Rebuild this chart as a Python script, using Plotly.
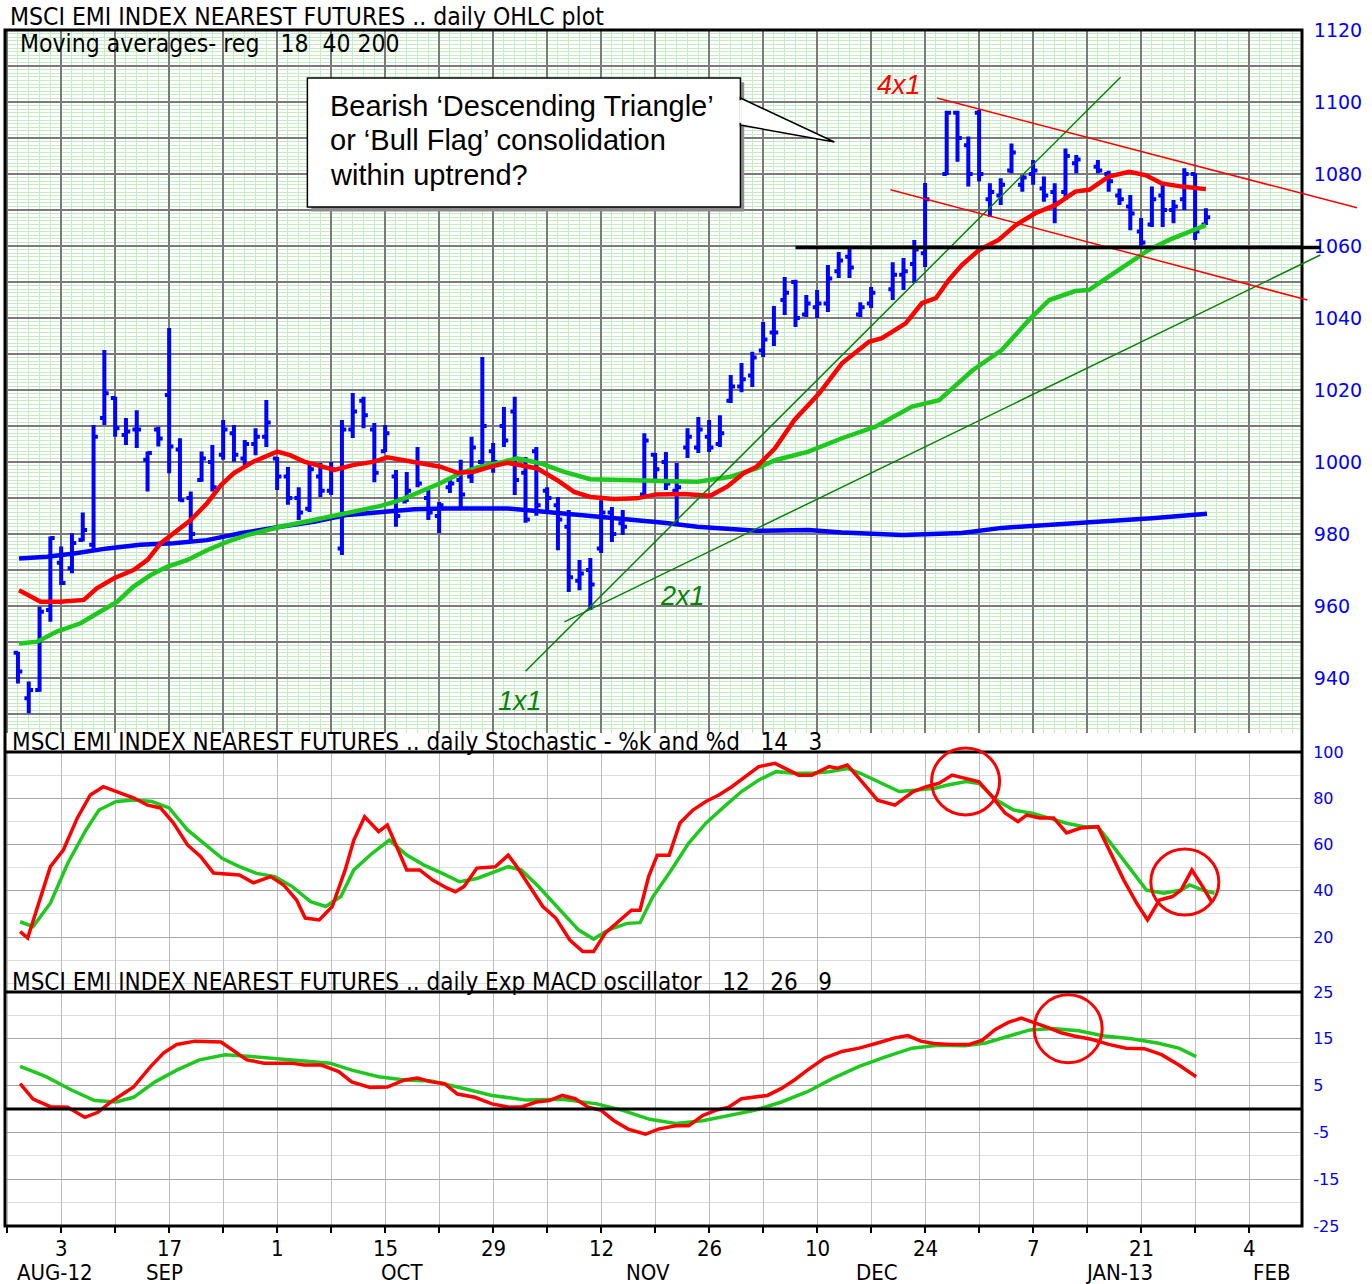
import plotly.graph_objects as go

# ---------------- data (x = trading-day index, 0 = 3 Sep 2012) ----------------
bar_day = [-4, -3, -2, -1, 0, 1, 2, 3, 4, 5, 6, 7, 8, 9, 10, 11, 12, 13, 14, 15, 16, 17, 18, 19,
           20, 21, 22, 23, 24, 25, 26, 27, 28, 29, 30, 31, 32, 33, 34, 35, 36, 37, 38, 39, 40,
           41, 42, 43, 44, 45, 46, 47, 48, 49, 50, 51, 52, 54, 55, 56, 57, 58, 59, 60, 61, 62,
           63, 64, 65, 66, 67, 68, 69, 70, 71, 72, 73, 74, 75, 77, 78, 79, 80, 82, 83, 84, 85,
           86, 87, 88, 89, 90, 91, 92, 93, 94, 96, 97, 98, 99, 100, 101, 102, 103, 104, 105, 106]
bar_open = [947, 934.4, 936.7, 958.9, 972, 970.5, 978.3, 977, 1012.2, 1017.8, 1007.5, 1009, 1000.6,
            1009, 1018.6, 1003.5, 990, 995, 1000, 1002, 1008, 1001, 1005, 1007,
            1001, 996, 990, 987, 996, 992, 976, 1009, 1017, 1009, 1003, 996, 989, 1000, 990, 985,
            993, 995, 996, 1000, 1003,
            1010, 1014, 997, 1003, 992, 988, 982, 967, 970, 976, 986, 983, 991, 1002, 1000, 992,
            1004, 1004, 1007, 1005, 1017,
            1021, 1024, 1031, 1036, 1045, 1050, 1041, 1043, 1044, 1053, 1057, 1041, 1044, 1048,
            1052, 1055, 1058, 1080, 1097, 1088, 1097,
            1073, 1074, 1081, 1077, 1080, 1076, 1075, 1075, 1083, 1082, 1080, 1074, 1071, 1064,
            1066, 1074, 1070, 1073, 1080, 1066]
bar_high = [947.3, 939, 959.8, 979.3, 976.5, 980.2, 986, 1010.3, 1031.1, 1018.1, 1012.2, 1014.4,
            1002.9, 1009.8, 1037.2, 1006.6, 991.8, 1002.9, 1004.7, 1011.7, 1010.3, 1006.1, 1009.4,
            1017.2,
            1001.4, 998.6, 993, 999.7, 999.7, 1000, 1011.7, 1019.2, 1018.1, 1010.8, 1010.3, 997.8,
            997.2, 1004.2, 992.2, 988.9, 995, 1000.6, 1007, 1029.2, 1005.3,
            1015.3, 1018.1, 1001.4, 1004.2, 993, 990.3, 986.7, 972.8, 973.3, 989.4, 987.5, 986.7,
            1008, 1002.5, 1002.8, 999.7, 1009.4, 1012.5, 1011.7, 1013, 1024.2,
            1027.5, 1030.6, 1038.9, 1043.3, 1051.4, 1050.6, 1046.4, 1047.8, 1054.7, 1058.3, 1059.7,
            1044.4, 1048.6, 1055.5, 1056.7, 1061.7, 1077.5, 1097.6, 1097.6, 1090.4, 1097.8,
            1077.4, 1078.8, 1088.5, 1079.7, 1083.9, 1079.3, 1077.4, 1087.1, 1085.3, 1083.9, 1080.9,
            1076, 1074.2, 1067.8, 1076.5, 1077, 1072.8, 1081.6, 1080.2, 1070.5]
bar_low = [938.5, 930.2, 936.2, 955.6, 965.8, 969.1, 977.9, 975.6, 1010.3, 1007, 1004.7, 1003.9,
           991.8, 1004.3, 996.9, 989, 977.9, 994.5, 991.8, 1000.6, 1000.1, 999.2, 1001.9, 1004.2,
           992.2, 988.1, 983.9, 986.1, 990.3, 990.8, 974.2, 1006.7, 1009.4, 994.4, 1002.8, 982,
           988.9, 993, 983.9, 980.3, 991.4, 987.5, 994.2, 998.6, 997,
           1004.2, 990.8, 983.1, 985.1, 986.7, 975.5, 963.9, 964.4, 958.9, 974.7, 977.8, 979.7,
           990.8, 994.2, 992.2, 983.1, 1001.1, 1002.5, 1002.8, 1004.2, 1016.4,
           1019.4, 1020.8, 1029.2, 1032.2, 1040.8, 1037.5, 1040.3, 1040, 1041.7, 1051.1, 1051.1,
           1040.3, 1042.8, 1045, 1047.8, 1049.7, 1054.2, 1079.7, 1083.4, 1076.5, 1077.9,
           1068.1, 1071.4, 1080.2, 1075.1, 1077, 1072.3, 1066.3, 1072.8, 1080.2, 1080.2, 1075.1,
           1071.4, 1064.4, 1060.1, 1065.3, 1065.3, 1066.3, 1070, 1061.7, 1065.8]
bar_close = [941.8, 936.7, 958.4, 978.9, 966.4, 977.5, 981.1, 1007, 1019.1, 1009.4, 1008.5, 1009,
             1002.5, 1006.5, 1004.3, 989.4, 980, 1001, 993, 1009, 1002, 1005, 1007, 1011,
             996, 990, 986, 998, 992, 998, 1009, 1014, 1013, 997, 1008, 985, 992, 994, 986, 988,
             994, 991, 1004, 1010, 1000,
             1006, 995, 984, 988, 990, 984, 968, 969, 966, 986, 980, 982, 1006, 998, 994, 993,
             1007, 1009, 1004, 1008, 1021,
             1023, 1029, 1034, 1036, 1047, 1040, 1044, 1044, 1051, 1056, 1054, 1043, 1047, 1052,
             1053, 1059, 1073, 1097, 1090, 1080, 1080,
             1075, 1077, 1086, 1079, 1081, 1074, 1072, 1085, 1084, 1081, 1078, 1073, 1069, 1061,
             1073, 1070, 1071, 1080, 1064, 1068]

ma18_day = [-3.9, -1.9, -0.1, 2.1, 3.3, 4.9, 6.7, 8.0, 9.2, 10.4, 12.0, 13.5, 14.8, 16.0, 17.8,
            20.0, 21.2, 22.5, 24.0, 25.3, 27.1, 29.0, 30.2, 31.7, 33.3, 35.1, 36.7, 38.2, 39.8,
            41.3, 44.1, 45.9, 47.5, 49.0, 51.2, 53.3, 55.1, 57.7, 60.1, 61.7, 63.2, 64.4, 66.1,
            67.9, 70.2, 72.3, 74.8, 76.0, 78.2, 79.7, 81.0, 82.2, 83.4, 85.0, 86.8, 88.4, 90.2,
            92.1, 93.9, 95.2, 97.0, 98.9, 100.4, 101.9, 103.8, 106.0]
ma18_val = [964.4, 961.2, 961.2, 961.7, 964.9, 967.7, 970.0, 972.8, 977.4, 980.2, 983.9, 988.5,
            993.6, 996.9, 1000.1, 1002.9, 1001.9, 1000.1, 998.7, 997.8, 999.2, 1000.1, 1001.3,
            1000.6, 999.8, 998.7, 997.0, 997.3, 998.7, 999.8, 998.2, 995.0, 991.7, 990.3, 989.7,
            989.9, 991.0, 991.1, 990.6, 993.2, 996.9, 998.7, 1003.8, 1011.7, 1019.1, 1027.4,
            1033.4, 1034.4, 1038.5, 1044.1, 1045.5, 1050.6, 1054.7, 1058.9, 1061.7, 1065.8,
            1069.1, 1071.4, 1075.1, 1075.6, 1079.3, 1080.6, 1079.7, 1077.4, 1076.5, 1075.8]

ma40_day = [-3.9, -2.2, -0.4, 1.8, 3.6, 5.2, 6.7, 8.3, 9.8, 11.7, 13.5, 15.4, 17.2, 20.3, 23.4,
            26.5, 29.6, 31.4, 33.3, 35.1, 37.0, 38.8, 41.0, 42.2, 44.4, 46.5, 49.0, 52.7, 55.8,
            58.9, 62.0, 64.4, 66.1, 69.2, 72.3, 75.4, 78.8, 81.3, 84.4, 87.1, 89.6, 91.5, 93.9,
            95.2, 97.0, 98.9, 100.7, 102.6, 104.4, 106.0]
ma40_val = [949.6, 950.1, 952.9, 955.2, 958.4, 961.2, 965.4, 968.6, 970.9, 972.8, 975.5, 977.9,
            979.7, 982.0, 983.9, 985.7, 987.8, 989.4, 991.7, 994.1, 996.9, 998.7, 1000.1, 1001.0,
            999.6, 997.3, 995.2, 995.0, 994.8, 994.5, 995.9, 998.2, 1000.5, 1002.9, 1006.6,
            1009.8, 1015.4, 1017.2, 1025.5, 1031.1, 1039.4, 1045.0, 1047.5, 1047.8, 1051.5,
            1055.2, 1058.9, 1061.7, 1064.0, 1065.8]

ma200_day = [-3.9, -1.3, 1.2, 4.3, 7.3, 10.4, 13.5, 16.6, 20.3, 23.4, 26.5, 29.6, 32.7, 35.7,
             38.8, 41.3, 43.5, 46.5, 49.6, 52.7, 55.8, 58.9, 62.0, 64.4, 69.2, 72.3, 77.9, 83.4,
             87.1, 91.7, 96.4, 101.0, 106.1]
ma200_val = [973.2, 973.7, 974.6, 976.0, 977.0, 977.4, 978.3, 980.2, 982.0, 983.4, 985.3, 986.2,
             986.9, 987.1, 987.1, 987.1, 986.5, 985.7, 984.8, 983.9, 983.1, 982.0, 981.3, 980.9,
             981.1, 980.4, 979.7, 980.3, 981.7, 982.5, 983.3, 984.4, 985.6]

stk_day = [-3.8, -3.1, -1.0, 0.2, 1.5, 2.7, 3.9, 5.1, 6.8, 8.0, 9.2, 10.4, 11.7, 12.9, 14.1, 16.5,
           17.8, 19.4, 20.6, 21.8, 22.6, 23.9, 25.1, 26.3, 27.1, 28.1, 29.4, 30.2, 31.2, 32.0,
           33.2, 34.4, 35.7, 36.5, 37.3, 38.5, 40.2, 41.4, 42.2, 43.4, 44.6, 45.8, 47.1, 48.3,
           49.3, 50.4, 51.6, 52.8, 53.6, 54.4, 55.2, 56.3, 57.3, 58.5, 59.7, 60.9, 62.1, 63.4,
           64.6, 66.1, 67.0, 68.3, 69.5, 71.1, 71.9, 72.8, 74.0, 75.6, 77.2, 78.9, 80.1, 81.3,
           82.5, 83.8, 85.0, 86.2, 87.4, 88.6, 89.4, 90.6, 91.9, 93.1, 94.4, 96.0, 97.2, 98.4,
           99.6, 100.6, 101.7, 102.9, 103.7, 104.7, 105.7, 106.6]
stk_val = [22.3, 19.6, 50.4, 57.6, 71.5, 81.4, 85.0, 82.9, 80.0, 77.0, 75.8, 69.3, 59.8, 54.8,
           47.7, 46.8, 43.4, 46.1, 42.5, 36.0, 28.2, 27.4, 33.2, 49.0, 61.9, 72.0, 65.6, 68.4,
           57.6, 49.0, 49.0, 44.6, 41.2, 39.6, 41.8, 49.8, 50.4, 55.4, 50.4, 41.8, 33.2, 28.2,
           18.7, 13.7, 13.7, 21.8, 26.6, 31.6, 31.6, 46.1, 55.4, 55.4, 69.3, 74.9, 78.6, 81.4,
           85.0, 89.3, 93.7, 95.1, 93.0, 90.0, 90.0, 93.7, 93.0, 94.4, 87.9, 79.2, 77.0, 82.9,
           85.0, 86.5, 90.0, 88.6, 87.1, 80.7, 73.6, 69.9, 72.7, 71.5, 71.5, 65.0, 67.1, 67.7,
           56.3, 44.6, 34.6, 27.4, 36.0, 37.5, 40.3, 49.0, 41.8, 34.6]

std_day = [-3.8, -2.6, -1.0, 0.6, 2.3, 3.5, 5.1, 6.8, 8.4, 10.0, 11.7, 13.2, 14.9, 16.5, 18.1,
           19.8, 21.4, 23.1, 24.5, 25.9, 27.1, 28.8, 30.4, 32.0, 33.6, 35.3, 36.9, 38.5, 39.8,
           41.4, 42.6, 44.2, 45.9, 47.9, 49.3, 50.7, 52.4, 53.6, 54.8, 56.5, 58.1, 59.7, 61.4,
           63.0, 64.6, 66.2, 67.9, 69.5, 71.1, 72.8, 74.0, 75.6, 77.6, 79.3, 80.9, 82.1, 83.8,
           85.0, 86.6, 88.2, 89.9, 91.5, 93.1, 94.7, 96.0, 97.2, 98.8, 100.5, 102.1, 103.7, 104.5,
           105.7, 106.8]
std_val = [26.6, 24.5, 34.6, 51.8, 66.3, 74.9, 78.6, 79.2, 78.6, 75.8, 66.3, 60.5, 54.0, 50.4,
           47.5, 46.1, 41.8, 35.3, 33.2, 37.5, 49.0, 56.2, 61.9, 55.4, 51.1, 47.5, 43.9, 45.3,
           47.5, 50.4, 49.0, 41.8, 33.2, 23.1, 19.1, 23.1, 25.9, 26.2, 37.5, 49.0, 60.5, 69.2,
           76.4, 82.9, 87.9, 91.5, 90.8, 90.8, 91.5, 92.9, 90.8, 87.2, 82.9, 83.6, 84.3, 85.7,
           87.2, 86.4, 79.2, 74.9, 73.5, 71.4, 69.2, 67.7, 67.7, 60.5, 50.4, 40.3, 38.9, 40.3,
           42.5, 40.3, 38.9]

macd_day = [-3.8, -2.6, -1.0, 0.6, 2.2, 3.4, 4.6, 6.7, 8.3, 9.5, 10.7, 12.4, 14.8, 16.0, 17.2,
            18.8, 21.3, 22.5, 24.1, 25.7, 26.9, 28.6, 30.2, 31.8, 33.0, 34.3, 35.5, 36.7, 38.3,
            39.9, 41.5, 42.7, 44.0, 45.2, 46.4, 47.6, 48.8, 50.0, 51.2, 52.5, 54.1, 55.3, 56.9,
            58.1, 59.4, 60.6, 61.8, 63.0, 64.2, 65.4, 66.7, 67.9, 69.1, 70.7, 72.3, 73.9, 75.6,
            77.2, 78.4, 79.6, 80.8, 82.4, 84.1, 85.3, 86.5, 87.7, 88.9, 90.1, 91.4, 92.6, 93.8,
            95.4, 97.0, 98.6, 100.3, 101.9, 103.5, 105.1]
macd_val = [5.4, 2.1, 0.5, 0.4, -1.8, -0.7, 1.5, 4.7, 9.1, 12.0, 13.8, 14.5, 14.3, 12.3, 10.5,
            9.8, 9.8, 9.4, 9.4, 8.0, 5.8, 4.6, 4.7, 6.2, 6.6, 5.8, 5.4, 3.2, 2.5, 1.1, 0.4, 0.5,
            1.5, 1.8, 2.9, 2.2, 0.4, -0.3, -2.5, -4.3, -5.4, -4.3, -3.6, -3.6, -1.4, -0.3, 0.4,
            2.2, 2.5, 2.9, 4.4, 6.2, 8.3, 10.9, 12.3, 13.0, 14.1, 15.2, 15.7, 14.5, 14.0, 13.8,
            13.8, 14.7, 17.0, 18.5, 19.4, 18.5, 17.4, 16.3, 15.6, 14.9, 13.8, 13.0, 12.9, 11.6,
            9.4, 6.9]

sig_day = [-3.8, -1.4, 1.0, 3.1, 5.1, 6.7, 8.7, 10.7, 12.8, 15.2, 17.6, 20.5, 23.3, 24.9, 26.9,
           29.4, 31.8, 34.3, 36.7, 39.9, 43.1, 46.4, 49.6, 52.0, 54.5, 56.9, 59.4, 61.8, 64.2,
           66.7, 69.1, 71.5, 73.9, 76.4, 78.8, 81.2, 83.7, 85.6, 87.7, 89.7, 91.8, 94.2, 96.6,
           99.1, 101.5, 103.5, 105.1]
sig_val = [9.1, 6.9, 4.0, 1.8, 1.5, 2.5, 5.8, 8.3, 10.5, 11.6, 11.2, 10.7, 10.2, 9.8, 8.3, 6.9,
           6.2, 6.0, 4.7, 2.9, 1.9, 2.1, 1.1, -0.3, -2.2, -3.1, -2.5, -1.4, -0.3, 1.5, 3.7, 6.6,
           9.1, 11.2, 13.0, 13.6, 13.5, 14.1, 15.6, 16.9, 17.2, 16.7, 15.6, 15.0, 14.1, 13.0, 11.2]

tick_days = [0, 10, 20, 30, 40, 50, 60, 70, 80, 90, 100, 110]
tick_labels = ["3", "17", "1", "15", "29", "12", "26", "10", "24", "7", "21", "4"]
month_days = [-0.6, 9.6, 31.6, 54.3, 75.5, 98.0, 112.1]
month_labels = ["AUG-12", "SEP", "OCT", "NOV", "DEC", "JAN-13", "FEB"]

price_ticks = [940, 960, 980, 1000, 1020, 1040, 1060, 1080, 1100, 1120]
stoch_ticks = [20, 40, 60, 80, 100]
macd_ticks = [-25, -15, -5, 5, 15, 25]

# trend lines drawn on the price panel: (day, price) end points
line_1x1 = [(43.0, 941.9), (98.1, 1106.9)]
line_2x1 = [(46.6, 955.6), (116.6, 1057.5)]
line_top = [(81.1, 1101.1), (120.0, 1070.6)]
line_bottom = [(76.8, 1075.6), (115.4, 1045.0)]
line_support = [(68.0, 1059.6), (116.6, 1059.6)]

# ---------------- layout constants ----------------
X0, X1 = -5.2, 114.9
MAIN_DOM = [(1226 - 733) / 1196, 1.0]
STO_DOM = [(1226 - 992) / 1196, (1226 - 752) / 1196]
MACD_DOM = [0.0, (1226 - 992) / 1196]
MAIN_RNG = [1120 - 703 / 3.6, 1120]
STO_RNG = [-3.78, 100]
MACD_RNG = [-25, 25]

NARROW = "Liberation Sans Narrow, Arial Narrow, DejaVu Sans Condensed, sans-serif"
ARIAL = "Liberation Sans, Arial, sans-serif"
BLUE = "#0000ff"
RED = "#ff0000"
GREEN = "#1ec81e"
DKGREEN = "#0a800a"
MINT = "#c6ecc6"


def xp(k):
    return (k - X0) / (X1 - X0)


def yp(v, dom, rng):
    return dom[0] + (v - rng[0]) / (rng[1] - rng[0]) * (dom[1] - dom[0])


def ym(v):
    return yp(v, MAIN_DOM, MAIN_RNG)


def ys(v):
    return yp(v, STO_DOM, STO_RNG)


def yc(v):
    return yp(v, MACD_DOM, MACD_RNG)


fig = go.Figure()

fig.add_trace(go.Ohlc(
    x=bar_day, open=bar_open, high=bar_high, low=bar_low, close=bar_close,
    increasing=dict(line=dict(color=BLUE, width=4)),
    decreasing=dict(line=dict(color=BLUE, width=4)),
    tickwidth=0.4, xaxis="x", yaxis="y", hoverinfo="skip"))

fig.add_trace(go.Scatter(x=ma200_day, y=ma200_val, mode="lines",
                         line=dict(color=BLUE, width=4.5), xaxis="x", yaxis="y"))
fig.add_trace(go.Scatter(x=ma40_day, y=ma40_val, mode="lines",
                         line=dict(color=GREEN, width=4.5), xaxis="x", yaxis="y"))
fig.add_trace(go.Scatter(x=ma18_day, y=ma18_val, mode="lines",
                         line=dict(color=RED, width=4.5), xaxis="x", yaxis="y"))

fig.add_trace(go.Scatter(x=std_day, y=std_val, mode="lines",
                         line=dict(color=GREEN, width=3.5), xaxis="x2", yaxis="y2"))
fig.add_trace(go.Scatter(x=stk_day, y=stk_val, mode="lines",
                         line=dict(color=RED, width=3.5), xaxis="x2", yaxis="y2"))

fig.add_trace(go.Scatter(x=sig_day, y=sig_val, mode="lines",
                         line=dict(color=GREEN, width=3.5), xaxis="x3", yaxis="y3"))
fig.add_trace(go.Scatter(x=macd_day, y=macd_val, mode="lines",
                         line=dict(color=RED, width=3.5), xaxis="x3", yaxis="y3"))

week_vals = list(range(-5, 116, 5))
x_common = dict(range=[X0, X1], tickmode="array", tickvals=week_vals, showgrid=True,
                zeroline=False, showline=False, fixedrange=True, automargin=False)
y_ticks = dict(ticks="outside", ticklen=7, tickcolor="rgba(0,0,0,0)")

fig.update_layout(
    width=1372, height=1284,
    margin=dict(l=5, r=70, t=30, b=58),
    paper_bgcolor="white", plot_bgcolor="white",
    showlegend=False,
    xaxis=dict(**x_common, domain=[0, 1], anchor="y", showticklabels=False,
               gridcolor="#7a7a7a", gridwidth=1.5,
               minor=dict(tickmode="linear", tick0=0, dtick=1, showgrid=True,
                          gridcolor=MINT, gridwidth=1),
               rangeslider=dict(visible=False)),
    xaxis2=dict(**x_common, domain=[0, 1], anchor="y2", showticklabels=False,
                gridcolor="#bdbdbd", gridwidth=1),
    xaxis3=dict(**x_common, domain=[0, 1], anchor="y3", showticklabels=False,
                ticks="outside", ticklen=6, tickwidth=2, tickcolor="black",
                gridcolor="#bdbdbd", gridwidth=1),
    yaxis=dict(domain=MAIN_DOM, range=MAIN_RNG, anchor="x", side="right", **y_ticks,
               tickmode="array", tickvals=list(range(930, 1121, 10)),
               ticktext=[str(v) if v in price_ticks else "" for v in range(930, 1121, 10)],
               tickfont=dict(family="DejaVu Sans", size=19, color=BLUE),
               showgrid=True, gridcolor="#7a7a7a", gridwidth=1.5, zeroline=False,
               minor=dict(tickmode="linear", tick0=0, dtick=1, showgrid=True,
                          gridcolor=MINT, gridwidth=1),
               fixedrange=True, automargin=False),
    yaxis2=dict(domain=STO_DOM, range=STO_RNG, anchor="x2", side="right", **y_ticks,
                tickmode="array", tickvals=stoch_ticks, ticktext=[str(v) for v in stoch_ticks],
                tickfont=dict(family="DejaVu Sans", size=16, color=BLUE),
                showgrid=True, gridcolor="#a5a5a5", gridwidth=1, zeroline=False,
                minor=dict(tickmode="linear", tick0=0, dtick=10, showgrid=True,
                           gridcolor="#dedede", gridwidth=1),
                fixedrange=True, automargin=False),
    yaxis3=dict(domain=MACD_DOM, range=MACD_RNG, anchor="x3", side="right", **y_ticks,
                tickmode="array", tickvals=macd_ticks, ticktext=[str(v) for v in macd_ticks],
                tickfont=dict(family="DejaVu Sans", size=16, color=BLUE),
                showgrid=True, gridcolor="#a5a5a5", gridwidth=1, zeroline=False,
                minor=dict(tickmode="linear", tick0=0, dtick=10, showgrid=True,
                           gridcolor="#dedede", gridwidth=1),
                fixedrange=True, automargin=False),
)

shapes = []
# frame and panel separators
shapes.append(dict(type="rect", xref="paper", yref="paper", x0=0, x1=1, y0=0, y1=1,
                   line=dict(color="black", width=3), layer="above"))
shapes.append(dict(type="line", xref="paper", yref="paper", x0=0, x1=1, y0=ys(100), y1=ys(100),
                   line=dict(color="black", width=3)))
shapes.append(dict(type="line", xref="paper", yref="paper", x0=0, x1=1, y0=yc(25), y1=yc(25),
                   line=dict(color="black", width=3)))
shapes.append(dict(type="line", xref="paper", yref="paper", x0=0, x1=1, y0=yc(0), y1=yc(0),
                   line=dict(color="black", width=3)))

# trend lines
for pts, col, w in [(line_1x1, DKGREEN, 1.5), (line_2x1, DKGREEN, 1.5), (line_top, RED, 1.5),
                    (line_bottom, RED, 1.5), (line_support, "black", 3.5)]:
    (ka, va), (kb, vb) = pts
    shapes.append(dict(type="line", xref="paper", yref="paper", x0=xp(ka), y0=ym(va),
                       x1=xp(kb), y1=ym(vb), line=dict(color=col, width=w)))

# callout box (day / price coordinates)
box = dict(k0=22.8, k1=62.9, v0=1070.8, v1=1106.7)
sh_dx, sh_dy = 0.35, -1.2
shapes.append(dict(type="rect", xref="paper", yref="paper",
                   x0=xp(box["k0"] + sh_dx), x1=xp(box["k1"] + sh_dx),
                   y0=ym(box["v0"] + sh_dy), y1=ym(box["v1"] + sh_dy),
                   fillcolor="#8c8c8c", line=dict(width=0)))
shapes.append(dict(type="rect", xref="paper", yref="paper",
                   x0=xp(box["k0"]), x1=xp(box["k1"]), y0=ym(box["v0"]), y1=ym(box["v1"]),
                   fillcolor="white", line=dict(color="black", width=1.5)))
tip = (71.6, 1088.9)
base_a, base_b = 1101.1, 1093.6
path = "M {} {} L {} {} L {} {} Z".format(xp(box["k1"]), ym(base_a), xp(tip[0]), ym(tip[1]),
                                          xp(box["k1"]), ym(base_b))
shapes.append(dict(type="path", xref="paper", yref="paper", path=path,
                   fillcolor="white", line=dict(color="black", width=1.5)))
shapes.append(dict(type="line", xref="paper", yref="paper", x0=xp(box["k1"]), x1=xp(box["k1"]),
                   y0=ym(base_a - 0.6), y1=ym(base_b + 0.6), line=dict(color="white", width=2.5)))

# red circles on the oscillators
for (ka, kb, va, vb, fy) in [(80.6, 86.9, 72.8, 101.7, ys), (100.9, 107.2, 29.5, 58.1, ys),
                             (90.1, 96.4, 9.9, 24.4, yc)]:
    shapes.append(dict(type="circle", xref="paper", yref="paper", x0=xp(ka), x1=xp(kb),
                       y0=fy(va), y1=fy(vb), line=dict(color=RED, width=3)))

fig.update_layout(shapes=shapes)

ann = []


def txt(text, x, y, size, family=NARROW, color="black", xanchor="left", **kw):
    ann.append(dict(text=text, x=x, y=y, xref="paper", yref="paper", showarrow=False,
                    xanchor=xanchor, yanchor="middle", font=dict(family=family, size=size, color=color),
                    **kw))


txt("MSCI EMI INDEX NEAREST FUTURES .. daily OHLC plot", 0.002, (1226 - 17) / 1196, 24.5)
txt("Moving averages- reg&nbsp;&nbsp;&nbsp;18&nbsp;&nbsp;40 200", 0.010, (1226 - 44) / 1196, 24.5)
txt("MSCI EMI INDEX NEAREST FUTURES .. daily Stochastic - %k and %d&nbsp;&nbsp;&nbsp;14&nbsp;&nbsp;&nbsp;3",
    0.004, (1226 - 742) / 1196, 24)
txt("MSCI EMI INDEX NEAREST FUTURES .. daily Exp MACD oscillator&nbsp;&nbsp;&nbsp;12&nbsp;&nbsp;&nbsp;26&nbsp;&nbsp;&nbsp;9",
    0.004, (1226 - 982) / 1196, 24)

callout_lines = ["Bearish ‘Descending Triangle’", "or ‘Bull Flag’ consolidation", "within uptrend?"]
for i, line in enumerate(callout_lines):
    txt(line, xp(box["k0"]) + 21 / 1297, ym(box["v1"]) - (28 + 34.5 * i) / 1196, 29, family=ARIAL)

txt("<i>1x1</i>", xp(42.5), ym(933.6), 27, family=ARIAL, color=DKGREEN, xanchor="center")
txt("<i>2x1</i>", xp(57.5), ym(962.8), 27, family=ARIAL, color=DKGREEN, xanchor="center")
txt("<i>4x1</i>", xp(77.6), ym(1104.7), 27, family=ARIAL, color=RED, xanchor="center")

for d, lab in zip(tick_days, tick_labels):
    ann.append(dict(text=lab, x=d, y=(1226 - 1248) / 1196, xref="x3", yref="paper",
                    showarrow=False, xanchor="center", yanchor="middle",
                    font=dict(family=NARROW, size=22, color="black")))
for d, lab in zip(month_days, month_labels):
    ann.append(dict(text=lab, x=d, y=(1226 - 1272) / 1196, xref="x3", yref="paper",
                    showarrow=False, xanchor="center", yanchor="middle",
                    font=dict(family=NARROW, size=22, color="black")))

fig.update_layout(annotations=ann)

fig.write_html("out.html", config={"displayModeBar": False},
               post_script="document.body.style.margin='0px';")
